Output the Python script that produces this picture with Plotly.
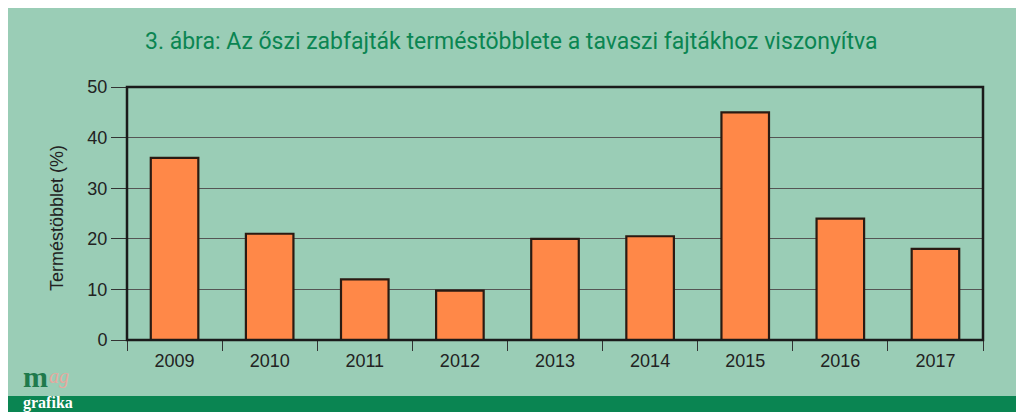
import plotly.graph_objects as go

# years and yield surplus (%) of winter oat varieties vs spring ones
years = ["2009", "2010", "2011", "2012", "2013", "2014", "2015", "2016", "2017"]
surplus = [36, 21, 12, 9.75, 20, 20.5, 45, 24, 18]
y_ticks = [0, 10, 20, 30, 40, 50]

title_text = "3. ábra: Az őszi zabfajták terméstöbblete a tavaszi fajtákhoz viszonyítva"
y_title = "Terméstöbblet (%)"

BG_GREEN = "#9acdb6"
DARK_GREEN = "#0a8552"

# the page body adds an 8px margin, so figure coords = page coords - 8
OFF = 8
W, H = 1024 - OFF, 416 - OFF
# plot area in page pixels: x 127..983, y 87..340
L, R, T, B = 127 - OFF, 983 - OFF, 87 - OFF, 340 - OFF


def px(x):
    # page pixel x -> paper coord
    return (x - OFF - L) / (R - L)


def py(y):
    # page pixel y -> paper coord
    return (B - (y - OFF)) / (B - T)


fig = go.Figure()
fig.add_trace(go.Bar(
    x=years, y=surplus,
    marker_color="#ff8848",
    marker_line_color="#2a1a12", marker_line_width=2.2,
    width=0.5,
))

shapes = [
    # green panel behind everything
    dict(type="rect", xref="paper", yref="paper", layer="below",
         x0=px(0), x1=px(1020), y0=py(412), y1=py(0),
         fillcolor=BG_GREEN, line_width=0),
    # dark green strip at bottom
    dict(type="rect", xref="paper", yref="paper", layer="above",
         x0=px(0), x1=px(1020), y0=py(412), y1=py(396),
         fillcolor=DARK_GREEN, line_width=0),
    # frame of the plot area
    dict(type="rect", xref="paper", yref="paper", layer="above",
         x0=0, x1=1, y0=0, y1=1,
         line=dict(color="#1a1a1a", width=2.5)),
]

annotations = [
    dict(text=title_text, xref="paper", yref="paper",
         x=px(511), y=py(42), xanchor="center", yanchor="middle",
         showarrow=False,
         font=dict(family="Roboto, sans-serif", size=23, color=DARK_GREEN)),
    dict(text=y_title, xref="paper", yref="paper", textangle=-90,
         x=px(57), y=py(218), xanchor="center", yanchor="middle",
         showarrow=False,
         font=dict(size=18, color="#222222")),
    # logo
    dict(text="<i>ag</i>", xref="paper", yref="paper",
         x=px(47), y=py(376), xanchor="left", yanchor="middle",
         showarrow=False,
         font=dict(family="Liberation Serif, serif", size=20, color="#e6a89e")),
    dict(text="<b>m</b>", xref="paper", yref="paper",
         x=px(21), y=py(395), xanchor="left", yanchor="bottom",
         showarrow=False,
         font=dict(family="Liberation Serif, serif", size=30, color="#1f7a4c")),
    dict(text="<b>grafika</b>", xref="paper", yref="paper",
         x=px(21), y=py(403), xanchor="left", yanchor="middle",
         showarrow=False,
         font=dict(family="Liberation Serif, serif", size=16, color="white")),
]

fig.update_layout(
    width=W, height=H,
    margin=dict(l=L, r=W - R, t=T, b=H - B),
    paper_bgcolor="white",
    plot_bgcolor="#e4e4e6",
    showlegend=False,
    shapes=shapes,
    annotations=annotations,
    font=dict(family="Liberation Sans, Arial, sans-serif", size=18, color="#222222"),
)

fig.update_xaxes(
    type="category",
    ticks="outside", tickson="boundaries", ticklen=10, tickwidth=1,
    tickcolor="#333333",
    showgrid=False, showline=False,
    tickfont=dict(size=18), ticklabelstandoff=8,
)
fig.update_yaxes(
    range=[0, 50], tickvals=y_ticks,
    ticks="outside", ticklen=15, tickwidth=1, tickcolor="#333333",
    showgrid=True, gridcolor="#555555", gridwidth=1,
    zeroline=False, showline=False,
    tickfont=dict(size=18),
)

fig.write_html("out.html")
